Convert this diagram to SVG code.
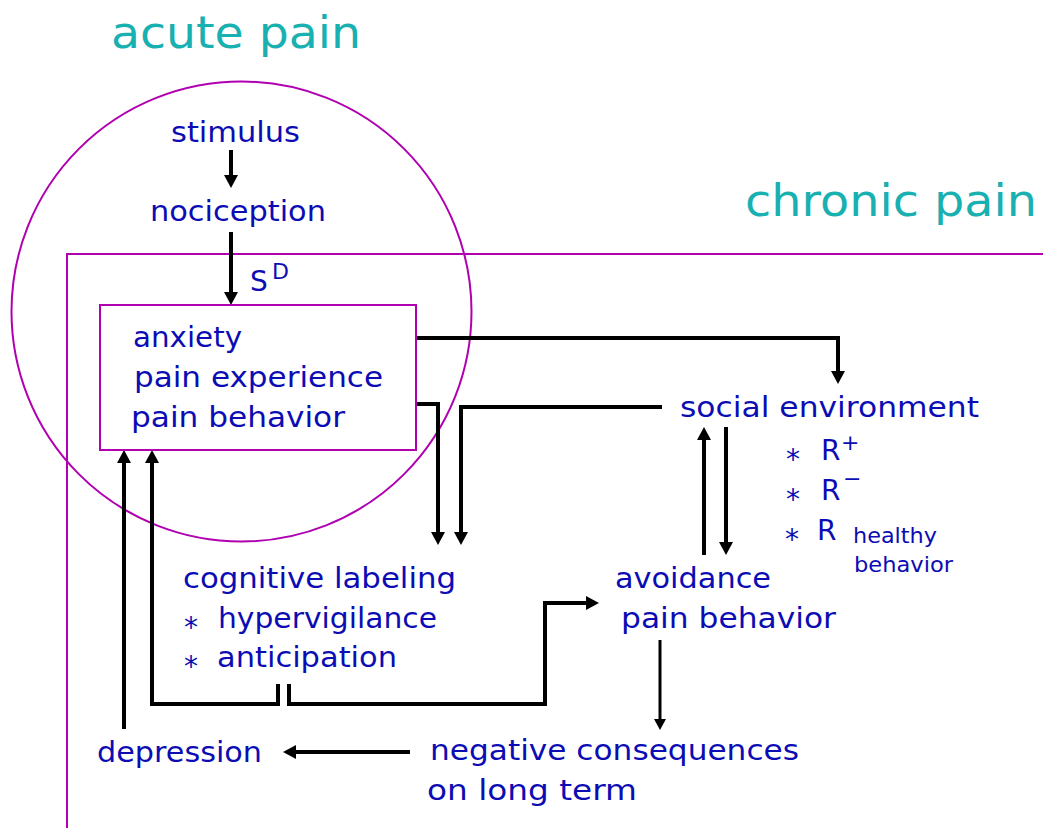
<svg xmlns="http://www.w3.org/2000/svg" width="1043" height="828" viewBox="0 0 1043 828">
<style>
  text { font-family: "DejaVu Sans", "Liberation Sans", sans-serif; }
  .t { fill: #0c0cb4; font-size: 28px; }
  .s { fill: #0c0cb4; font-size: 22px; }
  .big { fill: #18b0b0; font-size: 44px; }
  .mag { fill: none; stroke: #b000b0; stroke-width: 2; }
  .c { fill: none; stroke: #000; stroke-width: 4; stroke-linejoin: miter; marker-end: url(#ah); }
  .c2 { fill: none; stroke: #000; stroke-width: 3; marker-end: url(#ah2); }
</style>
<defs>
  <marker id="ah" markerWidth="14" markerHeight="16" refX="0" refY="8" orient="auto" markerUnits="userSpaceOnUse">
    <path d="M0,1 L13,8 L0,15 z" fill="#000"/>
  </marker>
  <marker id="ah2" markerWidth="12" markerHeight="14" refX="0" refY="7" orient="auto" markerUnits="userSpaceOnUse">
    <path d="M0,1 L11,7 L0,13 z" fill="#000"/>
  </marker>
</defs>
<rect width="1043" height="828" fill="#fff"/>

<g id="acute-pain">
  <circle class="mag" cx="241.5" cy="311.5" r="230" stroke-width="1.6"/>
  <text class="big" x="111" y="48" textLength="250" lengthAdjust="spacingAndGlyphs">acute pain</text>
</g>
<g id="chronic-pain">
  <path class="mag" d="M1043,254 H67 V828"/>
  <text class="big" x="745" y="216" textLength="292" lengthAdjust="spacingAndGlyphs">chronic pain</text>
</g>

<g id="connectors">
  <path class="c" d="M231,150 V175"/>
  <path class="c" d="M231,232 V292"/>
  <path class="c" d="M416,338 H838 V371"/>
  <path class="c" d="M416,404 H438 V532"/>
  <path class="c" d="M662,407 H461 V532"/>
  <path class="c" d="M704,555 V440"/>
  <path class="c" d="M726,427 V542"/>
  <path class="c" d="M124,729 V463"/>
  <path class="c" d="M278,684 V704 H152 V463"/>
  <path class="c" d="M289,684 V704 H545 V603 H586"/>
  <path class="c2" d="M660,640 V719"/>
  <path class="c" d="M410,752 H296"/>
</g>

<g id="stimulus">
  <text class="t" x="171" y="142" textLength="129" lengthAdjust="spacingAndGlyphs">stimulus</text>
</g>
<g id="nociception">
  <text class="t" x="150" y="221" textLength="176" lengthAdjust="spacingAndGlyphs">nociception</text>
</g>
<g id="sd-label">
  <text class="t" x="250" y="291">S</text>
  <text class="s" x="272" y="279">D</text>
</g>
<g id="pain-box">
  <rect class="mag" x="100" y="305" width="316" height="145"/>
  <text class="t" x="133" y="347" textLength="109" lengthAdjust="spacingAndGlyphs">anxiety</text>
  <text class="t" x="134" y="387" textLength="249" lengthAdjust="spacingAndGlyphs">pain experience</text>
  <text class="t" x="131" y="427" textLength="214" lengthAdjust="spacingAndGlyphs">pain behavior</text>
</g>
<g id="social-environment">
  <text class="t" x="680" y="417" textLength="299" lengthAdjust="spacingAndGlyphs">social environment</text>
  <text class="t" x="786" y="469">*</text>
  <text class="t" x="821" y="460">R</text>
  <text class="s" x="841" y="450">+</text>
  <text class="t" x="786" y="509">*</text>
  <text class="t" x="821" y="500">R</text>
  <text class="s" x="843" y="486">−</text>
  <text class="t" x="785" y="549">*</text>
  <text class="t" x="817" y="540">R</text>
  <text class="s" x="853" y="543" textLength="84" lengthAdjust="spacingAndGlyphs">healthy</text>
  <text class="s" x="854" y="572" textLength="99" lengthAdjust="spacingAndGlyphs">behavior</text>
</g>
<g id="avoidance">
  <text class="t" x="615" y="588" textLength="156" lengthAdjust="spacingAndGlyphs">avoidance</text>
  <text class="t" x="621" y="628" textLength="215" lengthAdjust="spacingAndGlyphs">pain behavior</text>
</g>
<g id="cognitive-labeling">
  <text class="t" x="183" y="588" textLength="273" lengthAdjust="spacingAndGlyphs">cognitive labeling</text>
  <text class="t" x="184" y="637">*</text>
  <text class="t" x="218" y="628" textLength="219" lengthAdjust="spacingAndGlyphs">hypervigilance</text>
  <text class="t" x="184" y="676">*</text>
  <text class="t" x="217" y="667" textLength="180" lengthAdjust="spacingAndGlyphs">anticipation</text>
</g>
<g id="depression">
  <text class="t" x="97" y="762" textLength="165" lengthAdjust="spacingAndGlyphs">depression</text>
</g>
<g id="negative-consequences">
  <text class="t" x="430" y="760" textLength="369" lengthAdjust="spacingAndGlyphs">negative consequences</text>
  <text class="t" x="427" y="800" textLength="210" lengthAdjust="spacingAndGlyphs">on long term</text>
</g>
</svg>
